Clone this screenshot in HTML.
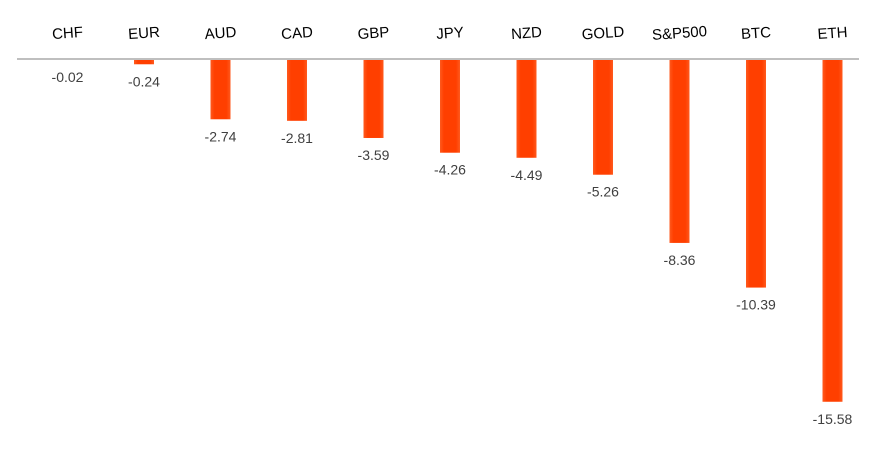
<!DOCTYPE html>
<html><head><meta charset="utf-8"><style>
html,body{margin:0;padding:0;background:#fff;}
svg{display:block;font-family:"Liberation Sans",sans-serif;}
</style></head><body>
<svg id="chart" width="877" height="454" viewBox="0 0 877 454">
<defs>
<linearGradient id="bg" x1="0" x2="1" y1="0" y2="0">
<stop offset="0" stop-color="#ff5a1e"/><stop offset="0.2" stop-color="#ff3f00"/><stop offset="0.8" stop-color="#ff3f00"/><stop offset="1" stop-color="#ff5a1e"/>
</linearGradient>
</defs>
<line x1="17" y1="59" x2="859" y2="59" stroke="#bfbfbf" stroke-width="2"/>
<g id="marks"></g>
</svg>
<script>
const categories = ["CHF","EUR","AUD","CAD","GBP","JPY","NZD","GOLD","S&P500","BTC","ETH"];
const values = [-0.02,-0.24,-2.74,-2.81,-3.59,-4.26,-4.49,-5.26,-8.36,-10.39,-15.58];
const valueLabels = ["-0.02","-0.24","-2.74","-2.81","-3.59","-4.26","-4.49","-5.26","-8.36","-10.39","-15.58"];
const NS="http://www.w3.org/2000/svg";
const g=document.getElementById('marks');
function xc(i){return 67.5+i*76.5;}
function y(v){return 59 - v*22.0;}
categories.forEach((c,i)=>{
  const x=xc(i), yb=y(values[i]);
  const r=document.createElementNS(NS,'rect');
  
  
  r.setAttribute('x',x-10);r.setAttribute('y',60);
  r.setAttribute('width',20);r.setAttribute('height',Math.max(0,yb-60));
  r.setAttribute('fill','url(#bg)');
  g.appendChild(r);
  const t=document.createElementNS(NS,'text');
  
  
  t.setAttribute('x',x);t.setAttribute('y',38);
  t.setAttribute('text-anchor','middle');t.setAttribute('font-size','15');t.setAttribute('fill','#000');
  t.setAttribute('transform','rotate(-4 '+x+' 33)');
  t.textContent=c;g.appendChild(t);
  const v=document.createElementNS(NS,'text');
  
  
  v.setAttribute('x',x);v.setAttribute('y',Math.max(yb,60)+22);
  v.setAttribute('text-anchor','middle');v.setAttribute('font-size','14');v.setAttribute('fill','#404040');
  v.textContent=valueLabels[i];g.appendChild(v);
});
</script>
</body></html>
